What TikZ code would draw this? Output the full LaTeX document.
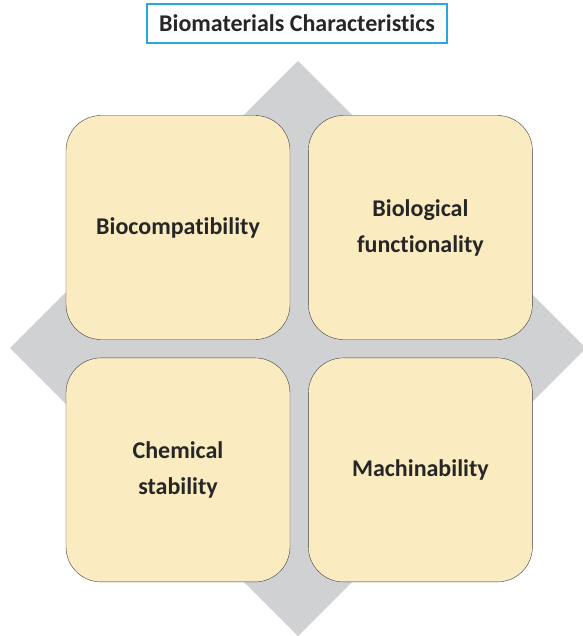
\documentclass[tikz,border=0pt]{standalone}
\usepackage{fontspec}
\setmainfont[Ligatures=NoCommon]{Carlito}
\usetikzlibrary{positioning}
\definecolor{cardfill}{HTML}{FAEBC1}
\definecolor{diamondgray}{HTML}{D0D1D3}
\definecolor{titleblue}{HTML}{29A8E0}

\begin{document}
\begin{tikzpicture}[x=1pt, y=-1pt,
    card/.style={rectangle, draw=black!75, fill=cardfill, rounded corners=35pt, minimum width=224pt, minimum height=224pt, align=center, text=black!85, font=\fontsize{24}{36}\selectfont\bfseries},
    heading/.style={rectangle, draw=titleblue, line width=1.5pt, minimum width=300pt, minimum height=39pt, text=black!85, font=\fontsize{24}{28}\selectfont\bfseries}
]
    \useasboundingbox (0,0) rectangle (582,636);
    % grey diamond behind the four cards
    \fill[diamondgray] (298,61) -- (586,348) -- (298,636) -- (10,348) -- cycle;
    \node[heading] (title) at (297,23.5) {Biomaterials Characteristics};
    \node[card] (biocomp) at (178,227.5) {Biocompatibility};
    \node[card, right=18pt of biocomp] (biofunc) {Biological\\functionality};
    \node[card, below=18pt of biocomp] (chemstab) {Chemical\\stability};
    \node[card, below=18pt of biofunc] (machin) {Machinability};
\end{tikzpicture}
\end{document}
